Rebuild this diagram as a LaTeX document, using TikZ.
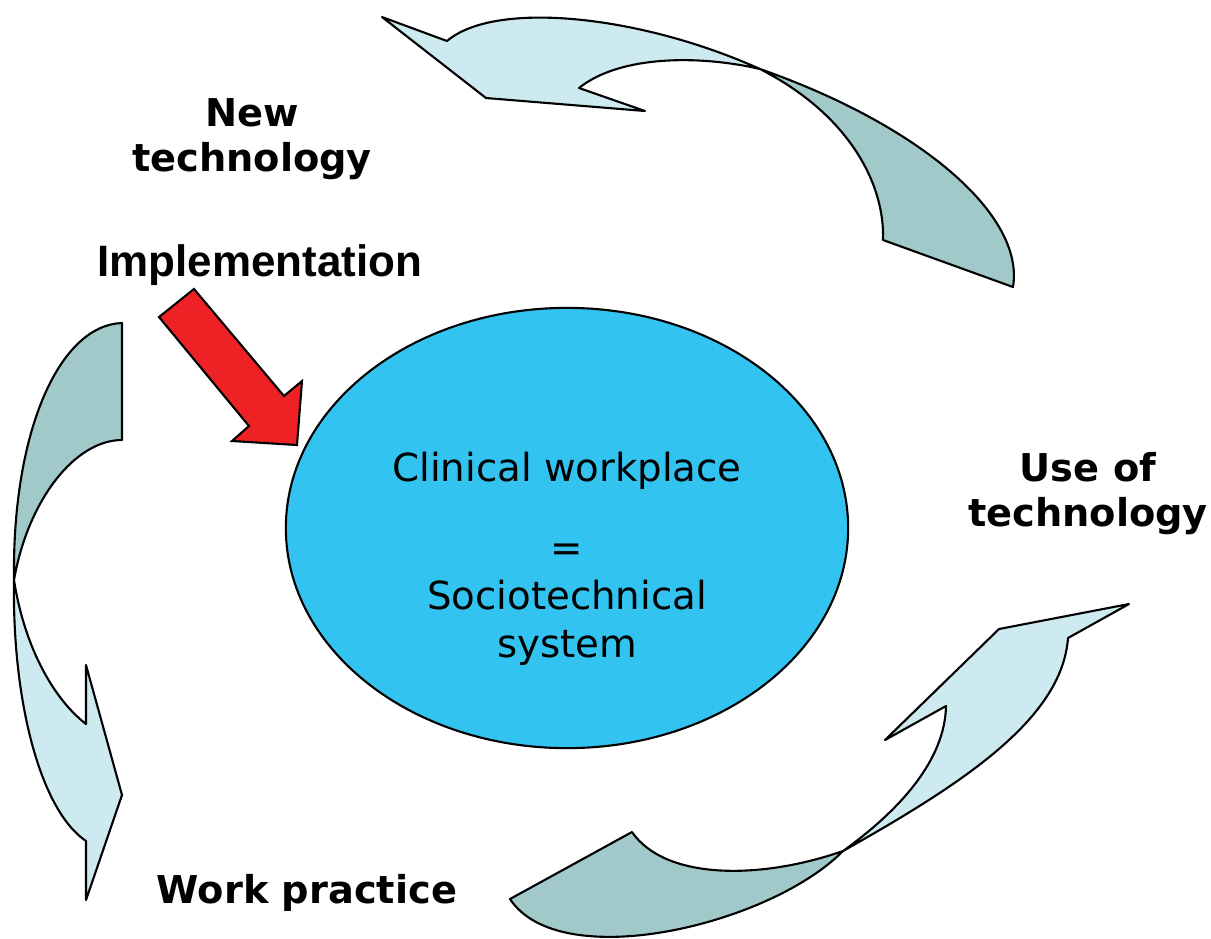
\documentclass[tikz,border=0pt]{standalone}
\usepackage{fontspec}
\setmainfont{DejaVu Sans}
\newfontfamily\arialfont{Liberation Sans}
\usetikzlibrary{shapes.geometric}
\definecolor{frontband}{RGB}{205,234,240}
\definecolor{backband}{RGB}{161,201,202}
\definecolor{sysblue}{RGB}{51,195,240}
\definecolor{implred}{RGB}{238,34,36}

\begin{document}
\begin{tikzpicture}[x=0.01cm, y=-0.01cm, line width=0.6pt,
  front/.style={draw=black, fill=frontband, line join=round},
  back/.style={draw=black, fill=backband, line join=round},
  phase/.style={align=center, inner sep=0, font=\fontsize{10.9}{12.8}\selectfont\bfseries}]
\useasboundingbox (0,0) rectangle (1211,938);

% top arrow: new technology -> use of technology
\draw [back] (760,69) .. controls (920,125) and (1025,215) .. (1013,287)
  -- (883,240) .. controls (885,185) and (850,115) .. (760,69) -- cycle;
\draw [front] (382,17) -- (447,41) .. controls (495,0) and (640,15) .. (760,69)
  .. controls (700,55) and (620,55) .. (579,88) -- (645,111) -- (486,98) -- cycle;

% right arrow: work practice -> use of technology
\draw [back] (632,832) .. controls (665,880) and (760,880) .. (843,851)
  .. controls (770,925) and (560,975) .. (510,899) -- cycle;
\draw [front] (843,851) .. controls (960,785) and (1062,720) .. (1068,638)
  -- (1129,604) -- (999,629) -- (885,740) -- (946,706)
  .. controls (945,760) and (900,810) .. (843,851) -- cycle;

% left arrow: implementation -> work practice
\draw [back] (122,323) -- (122,440) .. controls (75,440) and (28,500) .. (14,580)
  .. controls (12,430) and (60,325) .. (122,323) -- cycle;
\draw [front] (14,580) .. controls (12,700) and (40,810) .. (86,841)
  -- (86,900) -- (122,795) -- (86,665) -- (86,724)
  .. controls (55,700) and (25,650) .. (14,580) -- cycle;

% implementation arrow
\draw [fill=implred, line join=miter] (194,289) -- (284,396) -- (302,381) -- (297,445)
  -- (232,441) -- (249,426) -- (159,317) -- cycle;

\node (sys) [draw, ellipse, fill=sysblue, minimum width=5.62cm, minimum height=4.40cm, inner sep=0] at (567,528) {};
\node (systext) [align=center, inner sep=0, font=\fontsize{11}{13.7}\selectfont] at (567,559)
  {Clinical workplace\\[9.1pt] =\\ Sociotechnical\\ system};

\node (newtech) [phase] at (252,139) {New\\ technology};
\node (usetech) [phase] at (1088,494) {Use of\\ technology};
\node (work) [phase] at (307,893) {Work practice};
\node (impl) [inner sep=0, font=\arialfont\fontsize{12.5}{15}\selectfont\bfseries] at (260,265) {Implementation};
\end{tikzpicture}
\end{document}
